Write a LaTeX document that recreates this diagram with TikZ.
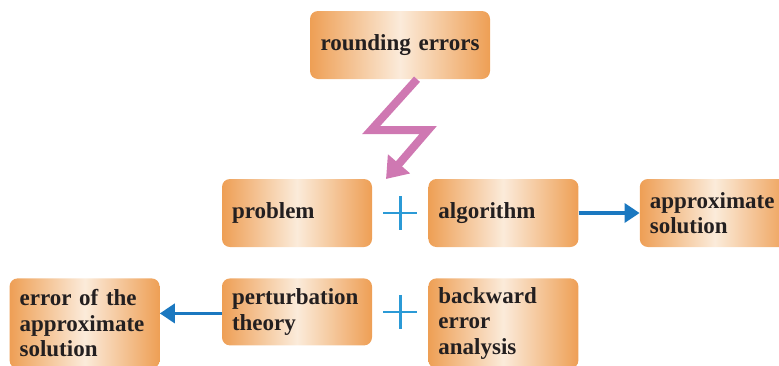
\documentclass[tikz,border=0pt]{standalone}
\usepackage{fontspec}
\setmainfont{Liberation Serif}
\usepackage{xcolor}
\usetikzlibrary{positioning, arrows.meta, calc}
\definecolor{boxorange}{HTML}{EE9F55}
\definecolor{boxlight}{HTML}{FBEBDA}
\definecolor{flashpink}{HTML}{CF78B2}
\definecolor{arrowblue}{HTML}{1B78C0}
\definecolor{plusblue}{HTML}{2B9AD6}
\definecolor{inkdark}{HTML}{231F20}

\tikzset{
  box/.style={rounded corners=8pt, left color=boxorange, right color=boxorange,
    middle color=boxlight, minimum width=150pt, minimum height=68pt,
    text width=130pt, inner xsep=10pt, align=left, text=inkdark,
    font=\fontsize{23}{25.5}\selectfont\bfseries},
  tallbox/.style={box, minimum height=90pt},
  flow/.style={arrowblue, line width=3.5pt, -{Triangle[width=19pt, length=15pt]}},
  flash/.style={flashpink, line width=8pt, miter limit=20,
    -{Triangle[width=28pt, length=20pt]}},
  plus/.style={minimum size=34pt, inner sep=0pt, path picture={
    \draw[plusblue, line width=2.8pt]
      (path picture bounding box.north) -- (path picture bounding box.south)
      (path picture bounding box.west) -- (path picture bounding box.east);}}
}

\begin{document}
\begin{tikzpicture}[x=1pt, y=-1pt]
  \useasboundingbox (0,0) rectangle (779,365);
  \clip (0,0) rectangle (779,365);

  % top source
  \node[box, minimum width=180pt, text width=160pt, align=center]
    (rounding) at (400,45) {rounding errors};

  % middle row
  \node[box] (problem) at (297,213) {problem};
  \node[box, right=56pt of problem] (algorithm) {algorithm};
  \node[box, right=61pt of algorithm] (approx) {approximate\\solution};
  \node[plus] (plusA) at ($(problem)!0.5!(algorithm)$) {};

  % bottom row
  \node[box, below=31pt of problem, minimum height=67pt] (perturbation)
    {perturbation\\theory};
  \node[tallbox, below=31pt of algorithm] (backward) {backward\\error\\analysis};
  \node[tallbox, anchor=north east] (errsol)
    at ([xshift=-62pt]perturbation.north west) {error of the\\approximate\\solution};
  \node[plus] (plusB) at ($(perturbation.east)!0.5!(perturbation.east -| backward.west)$) {};

  % connectors
  \coordinate (hit) at (386,179);
  \draw[flash] ([xshift=17pt]rounding.south) -- ++(-46,51) -- ++(57,0) -- (hit);
  \draw[flow] (algorithm.east) -- (approx.west);
  \draw[flow] ([yshift=-1.5pt]perturbation.west) -- ([yshift=-1.5pt]perturbation.west -| errsol.east);
\end{tikzpicture}
\end{document}
